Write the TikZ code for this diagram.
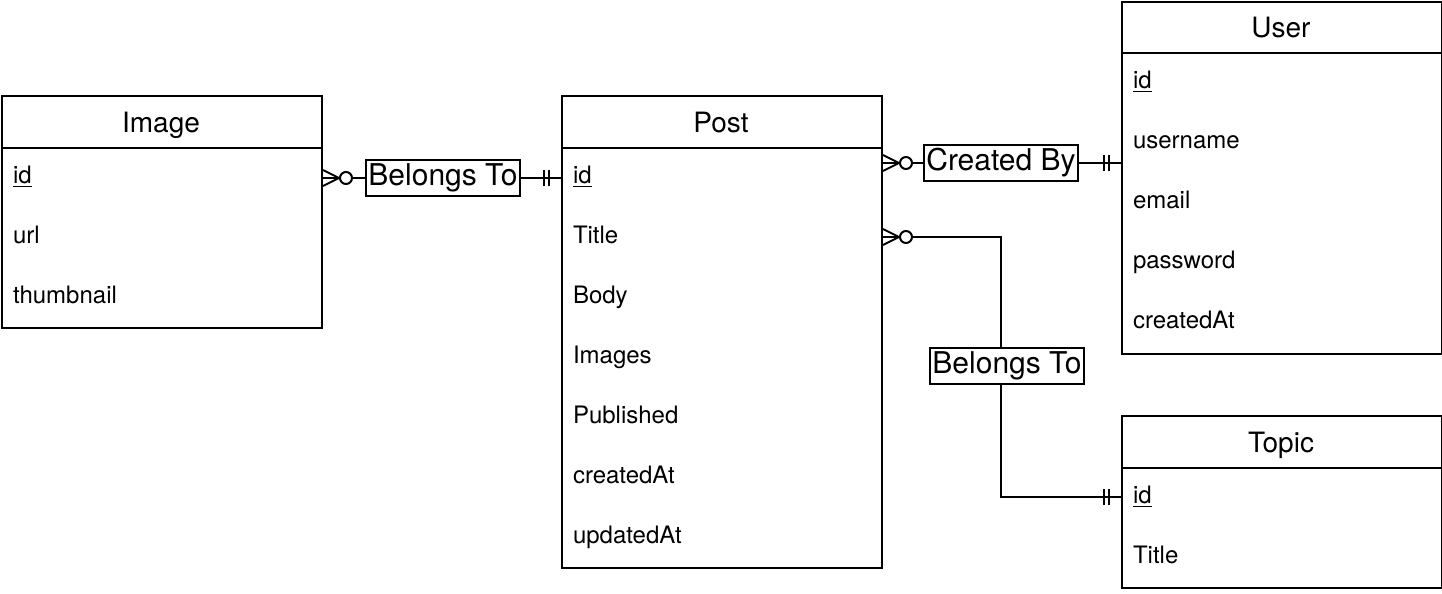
\documentclass[tikz,border=0pt]{standalone}
\usepackage{fontspec}
\setmainfont{TeX Gyre Heros}
\usetikzlibrary{calc}

\begin{document}
\begin{tikzpicture}[x=0.5pt, y=-0.5pt, line width=1pt,
        entity/.style={draw, rectangle, anchor=north west, minimum width=160pt, inner sep=0},
        head/.style={anchor=base, inner sep=0, font=\fontsize{14}{16}\selectfont},
        field/.style={anchor=base west, inner sep=0, font=\fontsize{12}{14}\selectfont},
        rel/.style={draw, fill=white, inner xsep=1.2pt, inner ysep=0, minimum height=18pt, font=\fontsize{15}{17}\selectfont},
        zmany/.pic={\draw (0,-8) -- (16,0) -- (0,8); \draw[fill=white] (23,0) circle (6);},
        oneone/.pic={\draw (-17,-8) -- (-17,8) (-12,-8) -- (-12,8);}]
        \useasboundingbox (0,0) rectangle (1442,594);

        % entities
        \node[entity, minimum height=116pt] (image) at (1,95) {};
        \node[entity, minimum height=236pt] (post) at (561,95) {};
        \node[entity, minimum height=176pt] (user) at (1121,1) {};
        \node[entity, minimum height=86pt] (topic) at (1121,415) {};

        \draw (image.west |- 0,148) -- (image.east |- 0,148);
        \draw (post.west |- 0,148) -- (post.east |- 0,148);
        \draw (user.west |- 0,53) -- (user.east |- 0,53);
        \draw (topic.west |- 0,468) -- (topic.east |- 0,468);

        \node[head] (imaget) at (161,132) {Image};
        \node[head] (postt) at (721,132) {Post};
        \node[head] (usert) at (1281,37) {User};
        \node[head] (topict) at (1281,452) {Topic};

        % fields
        \node[field] (imgid) at (12,183.5) {\underline{id}};
        \node[field] (imgurl) at (12,243.5) {url};
        \node[field] (imgthumb) at (12,303.5) {thumbnail};

        \node[field] (postid) at (572,183.5) {\underline{id}};
        \node[field] (posttitle) at (572,243.5) {Title};
        \node[field] (postbody) at (572,303.5) {Body};
        \node[field] (postimages) at (572,363.5) {Images};
        \node[field] (postpub) at (572,423.5) {Published};
        \node[field] (postcreated) at (572,483.5) {createdAt};
        \node[field] (postupdated) at (572,543.5) {updatedAt};

        \node[field] (userid) at (1132,88.5) {\underline{id}};
        \node[field] (username) at (1132,148.5) {username};
        \node[field] (useremail) at (1132,208.5) {email};
        \node[field] (userpass) at (1132,268.5) {password};
        \node[field] (usercreated) at (1132,328.5) {createdAt};

        \node[field] (topicid) at (1132,503.5) {\underline{id}};
        \node[field] (topictitle) at (1132,563.5) {Title};

        % relations
        \node[rel] (belong1) at (443,178) {Belongs To};
        \node[rel] (created) at (1001,163) {Created By};
        \node[rel] (belong2) at (1007,366) {Belongs To};

        \coordinate (ptitle) at (post.east |- 0,237);
        \coordinate (tid) at (topic.west |- 0,497);

        \draw (image.east |- belong1) -- (belong1) -- (post.west |- belong1);
        \draw (post.east |- created) -- (created) -- (user.west |- created);
        \draw (ptitle) -| ([xshift=-3pt]belong2.north);
        \draw ([xshift=-3pt]belong2.south) |- (tid);

        \pic at (image.east |- belong1) {zmany};
        \pic at (post.west |- belong1) {oneone};
        \pic at (post.east |- created) {zmany};
        \pic at (user.west |- created) {oneone};
        \pic at (ptitle) {zmany};
        \pic at (tid) {oneone};
\end{tikzpicture}
\end{document}
